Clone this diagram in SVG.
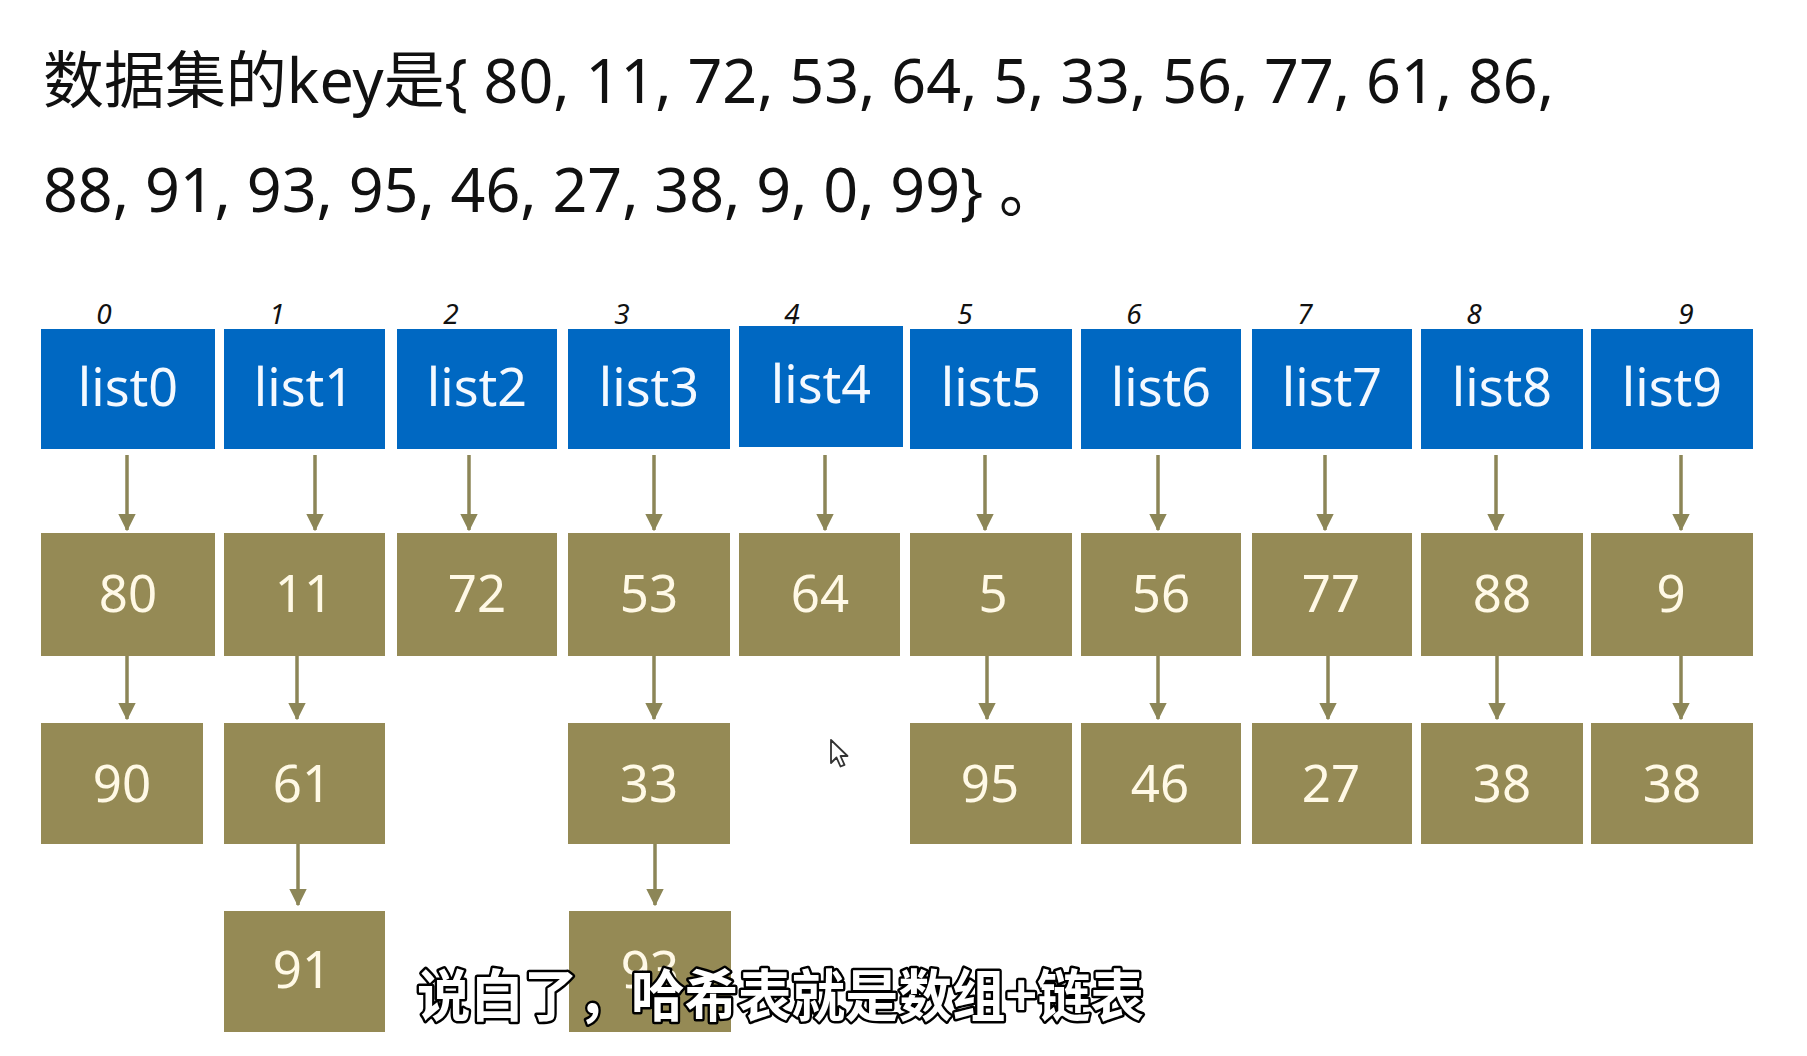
<svg xmlns="http://www.w3.org/2000/svg" width="1807" height="1056" viewBox="0 0 1807 1056">
<defs>
<style>
.title{font-family:"Noto Sans","Noto Sans CJK SC",sans-serif;font-size:62px;fill:#111}
.idx{font-family:"Noto Sans","Liberation Sans",sans-serif;font-style:italic;font-size:28px;fill:#111;text-anchor:middle}
.bucket{fill:#0068C2}
.node{fill:#958A55}
.blabel{font-family:"Noto Sans","Liberation Sans",sans-serif;font-size:52px;fill:#F4F9FF;text-anchor:middle}
.nlabel{font-family:"Noto Sans","Liberation Sans",sans-serif;font-size:51px;fill:#FFF9E6;text-anchor:middle}
.conn line{stroke:#8C8657;stroke-width:3.5;marker-end:url(#ah)}
.cap{font-family:"Noto Sans CJK SC","Noto Sans",sans-serif;font-size:56px;font-weight:bold;fill:#fff;stroke:#000;stroke-width:5px;paint-order:stroke;stroke-linejoin:round}
</style>
<marker id="ah" markerWidth="5" markerHeight="5" refX="4.6" refY="2.5" orient="auto" markerUnits="strokeWidth" viewBox="0 0 5 5">
<path d="M0,0 L5,2.5 L0,5 Z" fill="#8C8657"/>
</marker>
</defs>
<rect width="1807" height="1056" fill="#fff"/>

<g id="title">
<text class="title" x="43" y="103" textLength="1511" lengthAdjust="spacingAndGlyphs">数据集的key是{ 80, 11, 72, 53, 64, 5, 33, 56, 77, 61, 86,</text>
<text class="title" x="43" y="212" textLength="1017" lengthAdjust="spacingAndGlyphs">88, 91, 93, 95, 46, 27, 38, 9, 0, 99} 。</text>
</g>

<g id="indices">
<text class="idx" x="104" y="324">0</text>
<text class="idx" x="277" y="324">1</text>
<text class="idx" x="451" y="324">2</text>
<text class="idx" x="622" y="324">3</text>
<text class="idx" x="792" y="324">4</text>
<text class="idx" x="965" y="324">5</text>
<text class="idx" x="1134" y="324">6</text>
<text class="idx" x="1305" y="324">7</text>
<text class="idx" x="1474" y="324">8</text>
<text class="idx" x="1686" y="324">9</text>
</g>

<g id="list0"><rect class="bucket" x="41" y="329" width="174" height="120"/><text class="blabel" x="128" y="406">list0</text></g>
<g id="list1"><rect class="bucket" x="224" y="329" width="161" height="120"/><text class="blabel" x="304" y="406">list1</text></g>
<g id="list2"><rect class="bucket" x="397" y="329" width="160" height="120"/><text class="blabel" x="477" y="406">list2</text></g>
<g id="list3"><rect class="bucket" x="568" y="329" width="162" height="120"/><text class="blabel" x="649" y="406">list3</text></g>
<g id="list4"><rect class="bucket" x="739" y="326" width="164" height="121"/><text class="blabel" x="821" y="403">list4</text></g>
<g id="list5"><rect class="bucket" x="910" y="329" width="162" height="120"/><text class="blabel" x="991" y="406">list5</text></g>
<g id="list6"><rect class="bucket" x="1081" y="329" width="160" height="120"/><text class="blabel" x="1161" y="406">list6</text></g>
<g id="list7"><rect class="bucket" x="1252" y="329" width="160" height="120"/><text class="blabel" x="1332" y="406">list7</text></g>
<g id="list8"><rect class="bucket" x="1421" y="329" width="162" height="120"/><text class="blabel" x="1502" y="406">list8</text></g>
<g id="list9"><rect class="bucket" x="1591" y="329" width="162" height="120"/><text class="blabel" x="1672" y="406">list9</text></g>

<g id="n80"><rect class="node" x="41" y="533" width="174" height="123"/><text class="nlabel" x="128" y="612">80</text></g>
<g id="n11"><rect class="node" x="224" y="533" width="161" height="123"/><text class="nlabel" x="304" y="612">11</text></g>
<g id="n72"><rect class="node" x="397" y="533" width="160" height="123"/><text class="nlabel" x="477" y="612">72</text></g>
<g id="n53"><rect class="node" x="568" y="533" width="162" height="123"/><text class="nlabel" x="649" y="612">53</text></g>
<g id="n64"><rect class="node" x="739" y="533" width="161" height="123"/><text class="nlabel" x="820" y="612">64</text></g>
<g id="n5"><rect class="node" x="910" y="533" width="162" height="123"/><text class="nlabel" x="993" y="612">5</text></g>
<g id="n56"><rect class="node" x="1081" y="533" width="160" height="123"/><text class="nlabel" x="1161" y="612">56</text></g>
<g id="n77"><rect class="node" x="1252" y="533" width="160" height="123"/><text class="nlabel" x="1331" y="612">77</text></g>
<g id="n88"><rect class="node" x="1421" y="533" width="162" height="123"/><text class="nlabel" x="1502" y="612">88</text></g>
<g id="n9"><rect class="node" x="1591" y="533" width="162" height="123"/><text class="nlabel" x="1671" y="612">9</text></g>

<g id="n90"><rect class="node" x="41" y="723" width="162" height="121"/><text class="nlabel" x="122" y="802">90</text></g>
<g id="n61"><rect class="node" x="224" y="723" width="161" height="121"/><text class="nlabel" x="302" y="802">61</text></g>
<g id="n33"><rect class="node" x="568" y="723" width="162" height="121"/><text class="nlabel" x="649" y="802">33</text></g>
<g id="n95"><rect class="node" x="910" y="723" width="162" height="121"/><text class="nlabel" x="990" y="802">95</text></g>
<g id="n46"><rect class="node" x="1081" y="723" width="160" height="121"/><text class="nlabel" x="1160" y="802">46</text></g>
<g id="n27"><rect class="node" x="1252" y="723" width="160" height="121"/><text class="nlabel" x="1331" y="802">27</text></g>
<g id="n38a"><rect class="node" x="1421" y="723" width="162" height="121"/><text class="nlabel" x="1502" y="802">38</text></g>
<g id="n38b"><rect class="node" x="1591" y="723" width="162" height="121"/><text class="nlabel" x="1672" y="802">38</text></g>

<g id="n91"><rect class="node" x="224" y="911" width="161" height="121"/><text class="nlabel" x="302" y="988">91</text></g>
<g id="n93"><rect class="node" x="569" y="911" width="162" height="121"/><text class="nlabel" x="650" y="988">93</text></g>

<g id="connectors" class="conn">
<line x1="127" y1="455" x2="127" y2="530"/>
<line x1="315" y1="455" x2="315" y2="530"/>
<line x1="469" y1="455" x2="469" y2="530"/>
<line x1="654" y1="455" x2="654" y2="530"/>
<line x1="825" y1="455" x2="825" y2="530"/>
<line x1="985" y1="455" x2="985" y2="530"/>
<line x1="1158" y1="455" x2="1158" y2="530"/>
<line x1="1325" y1="455" x2="1325" y2="530"/>
<line x1="1496" y1="455" x2="1496" y2="530"/>
<line x1="1681" y1="455" x2="1681" y2="530"/>
<line x1="127" y1="656" x2="127" y2="719"/>
<line x1="297" y1="656" x2="297" y2="719"/>
<line x1="654" y1="656" x2="654" y2="719"/>
<line x1="987" y1="656" x2="987" y2="719"/>
<line x1="1158" y1="656" x2="1158" y2="719"/>
<line x1="1328" y1="656" x2="1328" y2="719"/>
<line x1="1497" y1="656" x2="1497" y2="719"/>
<line x1="1681" y1="656" x2="1681" y2="719"/>
<line x1="298" y1="844" x2="298" y2="905"/>
<line x1="655" y1="844" x2="655" y2="905"/>
</g>

<g id="cursor">
<path d="M831,740 L831,763 L836.5,757.5 L840.5,766.5 L844.5,764.8 L840.5,756 L847.5,756 Z" fill="#fff" stroke="#333" stroke-width="1.8" stroke-linejoin="round"/>
</g>

<g id="caption">
<text class="cap" x="417" y="1016" textLength="727" lengthAdjust="spacingAndGlyphs">说白了，哈希表就是数组+链表</text>
</g>
</svg>
